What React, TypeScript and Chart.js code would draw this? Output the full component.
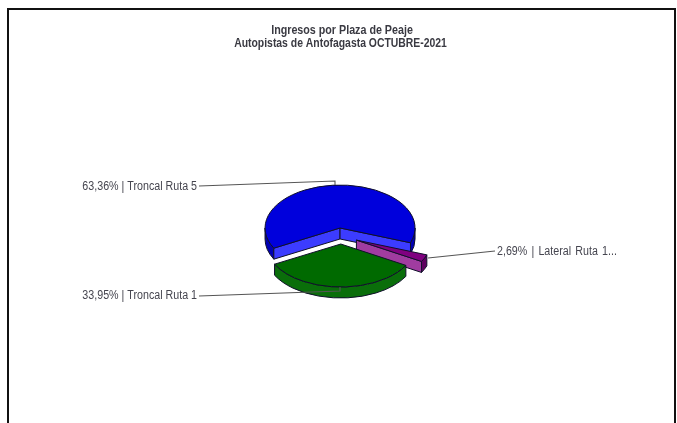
import React, { useEffect, useRef } from "react";
import { Chart, registerables, PieController } from "chart.js";

Chart.register(...registerables);

const categories = ["Troncal Ruta 5", "Lateral Ruta 1...", "Troncal Ruta 1"];
const shares = [63.36, 2.69, 33.95];
const shareLabels = ["63,36%", "2,69%", "33,95%"];
const topColors = ["#0000DC", "#800080", "#006A00"];
const wallColors = ["#0000B4", "#5E005E", "#0A6E0A"];
const faceColors = ["#3C3CFF", "#A03CA0", "#0A6E0A"];
const titleLines = ["Ingresos por Plaza de Peaje", "Autopistas de Antofagasta OCTUBRE-2021"];

const TILT = 0.573;
const DEPTH = 11;
const EXPLODE = [14, 17, 14];
const RADIUS = 75;
const OUTLINE = "#10102a";
const LABEL_SQUEEZE = 0.855;

class Pie3DController extends PieController {
  draw() {
    const ctx = this.chart.ctx;
    const arcs = this.getMeta().data as any[];
    arcs.forEach((arc, i) => {
      const a0 = arc.startAngle;
      const a1 = arc.endAngle;
      const mid = (a0 + a1) / 2;
      const cx = arc.x + Math.cos(mid) * EXPLODE[i];
      const cy = arc.y + Math.sin(mid) * EXPLODE[i] * TILT;
      const r = arc.outerRadius;
      const rY = r * TILT;
      ctx.save();
      ctx.lineWidth = 1;
      ctx.lineJoin = "round";
      ctx.strokeStyle = OUTLINE;
      // outer wall: only the part of the rim that faces the viewer
      ctx.fillStyle = wallColors[i];
      for (let k = -1; k <= 2; k++) {
        const s = Math.max(a0, k * 2 * Math.PI);
        const e = Math.min(a1, k * 2 * Math.PI + Math.PI);
        if (e <= s) continue;
        ctx.beginPath();
        ctx.ellipse(cx, cy, r, rY, 0, s, e);
        ctx.ellipse(cx, cy + DEPTH, r, rY, 0, e, s, true);
        ctx.closePath();
        ctx.fill();
        ctx.stroke();
      }
      // radial cut faces that look towards the viewer
      const face = (a: number) => {
        const ex = cx + Math.cos(a) * r;
        const ey = cy + Math.sin(a) * rY;
        ctx.beginPath();
        ctx.moveTo(cx, cy);
        ctx.lineTo(ex, ey);
        ctx.lineTo(ex, ey + DEPTH);
        ctx.lineTo(cx, cy + DEPTH);
        ctx.closePath();
        ctx.fillStyle = faceColors[i];
        ctx.fill();
        ctx.stroke();
      };
      if (Math.cos(a0) < 0) face(a0);
      if (Math.cos(a1) > 0) face(a1);
      // top face: the library's own arc, squashed into perspective
      ctx.save();
      ctx.translate(cx, cy);
      ctx.scale(1, TILT);
      ctx.translate(-arc.x, -arc.y);
      arc.draw(ctx);
      ctx.restore();
      ctx.beginPath();
      ctx.moveTo(cx, cy);
      ctx.ellipse(cx, cy, r, rY, 0, a0, a1);
      ctx.closePath();
      ctx.stroke();
      ctx.restore();
    });
  }
}
(Pie3DController as any).id = "pie3d";
(Pie3DController as any).defaults = PieController.defaults;
(Pie3DController as any).overrides = PieController.overrides;
Chart.register(Pie3DController as any);

const leaders = [
  { anchor: [335, 185], elbow: [335, 181], end: [199, 186], text: [197, 187], align: "right", gap: 0 },
  { anchor: [428, 258], elbow: [428, 258], end: [495, 251], text: [497, 252], align: "left", gap: 1.4 },
  { anchor: [340, 287], elbow: [340, 291], end: [199, 296], text: [197, 296], align: "right", gap: 0 },
];
const titleRows = [
  { x: 342, y: 30.5, squeeze: 0.857 },
  { x: 340.5, y: 44, squeeze: 0.832 },
];

const squeezedText = (ctx: any, s: string, x: number, y: number, squeeze: number) => {
  ctx.save();
  ctx.translate(x, y);
  ctx.scale(squeeze, 1);
  ctx.fillText(s, 0, 0);
  ctx.restore();
};

const labelPlugin = {
  id: "leaderLabels",
  afterDatasetsDraw(chart: any) {
    const ctx = chart.ctx;
    ctx.save();
    ctx.textBaseline = "middle";
    ctx.font = "bold 12.5px 'Liberation Sans'";
    ctx.textAlign = "center";
    ctx.fillStyle = "#3a3a42";
    titleLines.forEach((t, i) => squeezedText(ctx, t, titleRows[i].x, titleRows[i].y, titleRows[i].squeeze));
    ctx.font = "12.5px 'Liberation Sans'";
    categories.forEach((c, i) => {
      const l = leaders[i];
      ctx.strokeStyle = "#555555";
      ctx.lineWidth = 1.1;
      ctx.beginPath();
      ctx.moveTo(l.anchor[0], l.anchor[1]);
      ctx.lineTo(l.elbow[0], l.elbow[1]);
      ctx.lineTo(l.end[0], l.end[1]);
      ctx.stroke();
      ctx.fillStyle = "#45454f";
      ctx.textAlign = l.align;
      ctx.wordSpacing = `${l.gap}px`;
      squeezedText(ctx, `${shareLabels[i]} | ${c}`, l.text[0], l.text[1], LABEL_SQUEEZE);
    });
    ctx.restore();
  },
};

export default function App() {
  const ref = useRef<HTMLCanvasElement>(null);
  useEffect(() => {
    document.body.style.margin = "0";
    const chart = new Chart(ref.current!, {
      type: "pie3d" as any,
      data: {
        labels: categories,
        datasets: [
          {
            data: shares,
            backgroundColor: topColors,
            borderWidth: 0,
            radius: RADIUS,
          } as any,
        ],
      },
      options: {
        responsive: false,
        animation: false,
        rotation: 242,
        layout: { padding: { left: 5, right: 0, top: 49, bottom: 0 } },
        plugins: {
          legend: { display: false },
          tooltip: { enabled: false },
          title: { display: false },
        },
      } as any,
      plugins: [labelPlugin],
    });
    return () => chart.destroy();
  }, []);
  return (
    <div style={{ position: "relative", width: 677, height: 423, overflow: "hidden", background: "#fff" }}>
      <canvas ref={ref} width={677} height={423} style={{ display: "block", filter: "blur(0.35px)" }} />
      <div
        style={{
          position: "absolute",
          left: 7,
          top: 8,
          width: 665,
          height: 440,
          border: "2px solid #111",
          pointerEvents: "none",
        }}
      />
    </div>
  );
}
